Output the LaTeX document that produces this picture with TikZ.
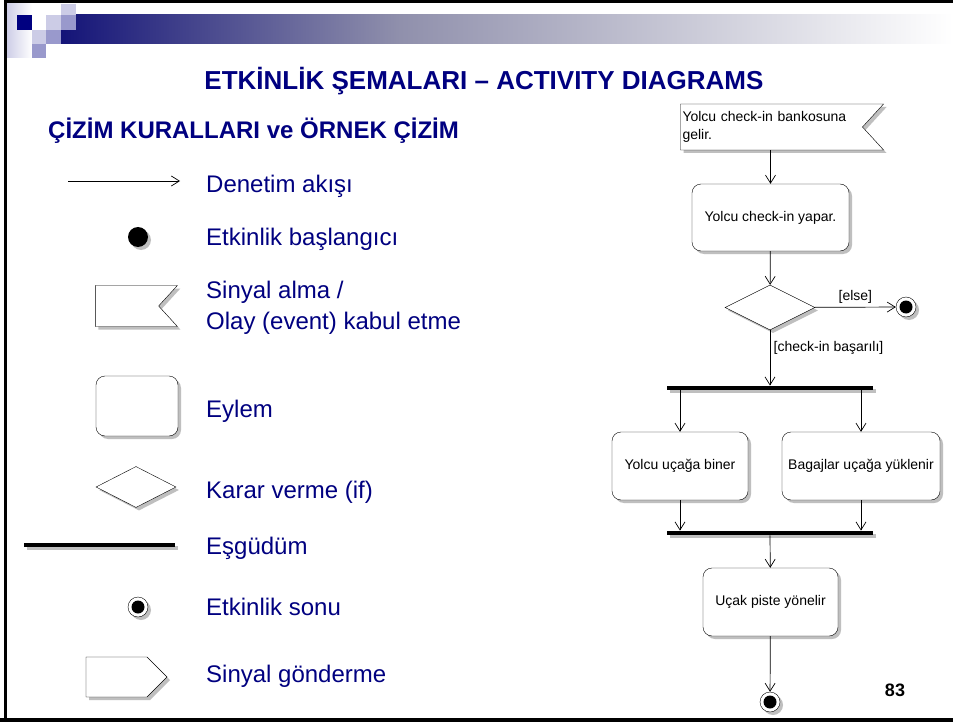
\documentclass[tikz,border=0pt]{standalone}
\usepackage{fontspec}
\setmainfont{Liberation Sans}
\usetikzlibrary{positioning,arrows.meta,shapes.geometric,shapes.symbols,shadows}

\definecolor{slideblue}{RGB}{0,0,128}
\definecolor{bandnavy}{RGB}{20,20,120}
\definecolor{bandmid}{RGB}{144,144,172}
\definecolor{sqlight}{RGB}{204,204,230}
\definecolor{sqmid}{RGB}{153,153,204}

\begin{document}
\begin{tikzpicture}[%
    x=1pt, y=-1pt,
    flow/.style={-{Straight Barb[length=8pt,width=10pt]}, line width=0.7pt},
    shade box/.style={general shadow={fill=black!25, shadow xshift=3pt, shadow yshift=-3pt}},
    action/.style={draw, fill=white, rounded corners=9pt, shade box, inner sep=2pt,
        font=\fontsize{14}{16}\selectfont},
    decision/.style={diamond, draw, fill=white, aspect=2, inner sep=0pt, shade box},
    recv/.style={signal, signal to=nowhere, signal from=east, signal pointer angle=95,
        draw, fill=white, shade box},
    send/.style={signal, signal to=east, signal pointer angle=90, draw, fill=white, shade box},
    startnode/.style={circle, fill=black, minimum size=20pt, inner sep=0pt, shade box},
    endnode/.style={circle, draw, fill=white, minimum size=20pt, inner sep=0pt, shade box,
        path picture={\fill[black] (path picture bounding box.center) circle (6.5pt);}},
    bar/.style={rectangle, fill=black, minimum height=4.5pt, inner sep=0pt, shade box},
    legend/.style={anchor=west, inner sep=0pt, text=slideblue, align=left,
        font=\fontsize{24}{31}\selectfont},
    guard/.style={font=\fontsize{14}{16}\selectfont}]

    \useasboundingbox (0,0) rectangle (953,722);
    \fill[white] (0,0) rectangle (953,722);

    % header band
    \shade[left color=sqlight, right color=white] (6,3) rectangle (32,58);
    \shade[left color=bandnavy, right color=bandmid] (61,15) rectangle (400,44);
    \shade[left color=bandmid, right color=white] (400,15) rectangle (953,44);
    \fill[sqlight] (61,4) rectangle (76,15);
    \fill[slideblue] (17,15) rectangle (32,30);
    \fill[sqlight] (46,15) rectangle (61,30);
    \fill[sqmid] (61,15) rectangle (76,30);
    \fill[sqlight] (32,30) rectangle (46,44);
    \fill[sqmid] (46,30) rectangle (61,44);
    \fill[sqmid] (32,44) rectangle (46,58);

    % frame
    \draw[line width=3pt] (5,722) -- (5,1.5) -- (953,1.5);
    \draw[line width=4pt] (0,720) -- (953,720);

    \node[font=\bfseries\fontsize{26}{30}\selectfont, text=slideblue] (title) at (484,81)
        {ETKİNLİK ŞEMALARI – ACTIVITY DIAGRAMS};
    \node[anchor=west, inner sep=0pt, font=\bfseries\fontsize{24}{28}\selectfont, text=slideblue]
        (rules) at (48,131) {ÇİZİM KURALLARI ve ÖRNEK ÇİZİM};

    % legend
    \coordinate (la) at (68,181);
    \coordinate (lb) at (180,181);
    \draw[flow] (la) -- (lb);
    \node[legend] (tflow) at (206,186) {Denetim akışı};

    \node[startnode] (lstart) at (138,237) {};
    \node[legend] (tstart) at (206,239) {Etkinlik başlangıcı};

    \node[recv, minimum width=82pt, minimum height=41pt] (lrecv) at (127,306) {};
    \node[legend] (trecv) at (206,308) {Sinyal alma /\\Olay (event) kabul etme};

    \node[action, minimum width=82pt, minimum height=60pt] (lact) at (137,406) {};
    \node[legend] (tact) at (206,411) {Eylem};

    \node[decision, minimum width=80pt, minimum height=41pt] (ldec) at (136,487) {};
    \node[legend] (tdec) at (206,492) {Karar verme (if)};

    \node[bar, minimum width=151pt] (lbar) at (99.5,545) {};
    \node[legend] (tbar) at (206,548) {Eşgüdüm};

    \node[endnode] (lend) at (138,607) {};
    \node[legend] (tend) at (206,607) {Etkinlik sonu};

    \node[send, minimum width=81pt, minimum height=40pt] (lsend) at (116.5,677) {};
    \node[legend] (tsend) at (206,676) {Sinyal gönderme};

    % example
    \node[recv, minimum width=203pt, minimum height=46pt, text width=178pt, align=left,
        inner sep=2pt, font=\fontsize{14}{18}\selectfont] (gelir) at (771.5,127)
        {Yolcu check-in bankosuna\\gelir.};
    \node[action, minimum width=157pt, minimum height=67pt] (yapar) at (770.5,217.5)
        {Yolcu check-in yapar.};
    \node[decision, minimum width=90pt, minimum height=45pt] (karar) at (770,307.5) {};
    \node[endnode] (son1) at (906,307) {};
    \node[bar, minimum width=206pt] (fork) at (770,388) {};
    \node[action, minimum width=136pt, minimum height=68pt] (biner) at (680,466)
        {Yolcu uçağa biner};
    \node[action, minimum width=158pt, minimum height=68pt] (yuk) at (861,466)
        {Bagajlar uçağa yüklenir};
    \node[bar, minimum width=206pt] (join) at (770,533) {};
    \node[action, minimum width=135pt, minimum height=68pt] (pist) at (770.5,602)
        {Uçak piste yönelir};
    \node[endnode] (son2) at (770,702) {};
    \node[font=\bfseries\fontsize{18}{20}\selectfont] (page) at (895,690) {83};

    \draw[flow] (yapar.north |- gelir.south) -- (yapar.north);
    \draw[flow] (yapar) -- (karar);
    \draw[flow] (karar) -- node[guard, above] {[else]} (son1);
    \draw[flow] (karar) -- node[guard, right, pos=0.32] {[check-in başarılı]} (fork);
    \draw[flow] (biner.north |- fork.south) -- (biner);
    \draw[flow] (yuk.north |- fork.south) -- (yuk);
    \draw[flow] (biner) -- (biner.south |- join.north);
    \draw[flow] (yuk) -- (yuk.south |- join.north);
    \draw[flow] (join) -- (pist);
    \draw[flow] (pist) -- (son2);
\end{tikzpicture}
\end{document}
